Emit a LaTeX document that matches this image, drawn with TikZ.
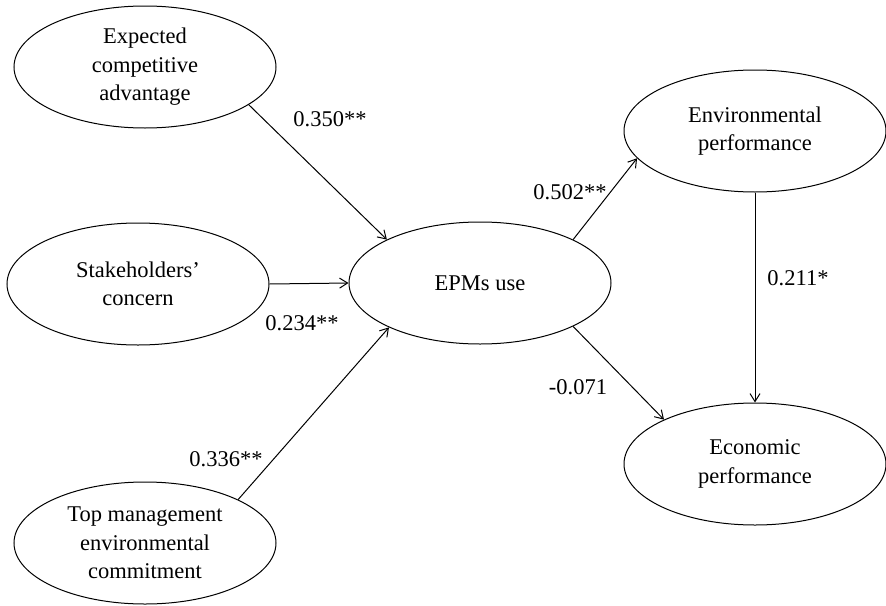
\documentclass[tikz,border=0pt]{standalone}
\usepackage{fontspec}
\setmainfont{Liberation Serif}
\usetikzlibrary{shapes.geometric,arrows.meta}

\begin{document}
\begin{tikzpicture}[x=1pt,y=-1pt,
  latent/.style={draw,ellipse,line width=1pt,minimum width=262pt,minimum height=122pt,
    inner sep=0pt,align=center,font=\fontsize{22.5}{28.5}\selectfont},
  coef/.style={inner sep=0pt,font=\fontsize{22.5}{27}\selectfont},
  link/.style={line width=1pt,-{Straight Barb[length=8pt,width=10pt]}}]
\useasboundingbox (0,0) rectangle (886,605);
\node[latent] (eca) at (145,67) {Expected\\competitive\\advantage};
\node[latent] (stake) at (138,284) {Stakeholders’\\concern};
\node[latent] (top) at (145,543) {Top management\\environmental\\commitment};
\node[latent] (epms) at (480,283) {EPMs use};
\node[latent] (env) at (755,131) {Environmental\\performance};
\node[latent] (econ) at (755,464) {Economic\\performance};
\draw[link] (eca.-20) -- (epms.155);
\draw[link] (stake.east) -- (epms.west);
\draw[link] (top.25) -- (epms.206);
\draw[link] (epms.25) -- (env.193);
\draw[link] (epms.-25) -- (econ.154);
\draw[link] (env.south) -- (econ.north);
\node[coef] (c-eca) at (330,119) {0.350**};
\node[coef] (c-stake) at (302,323) {0.234**};
\node[coef] (c-top) at (226,459) {0.336**};
\node[coef] (c-env) at (570,192) {0.502**};
\node[coef] (c-econ) at (578,387) {-0.071};
\node[coef] (c-envecon) at (798,278) {0.211*};
\end{tikzpicture}
\end{document}
